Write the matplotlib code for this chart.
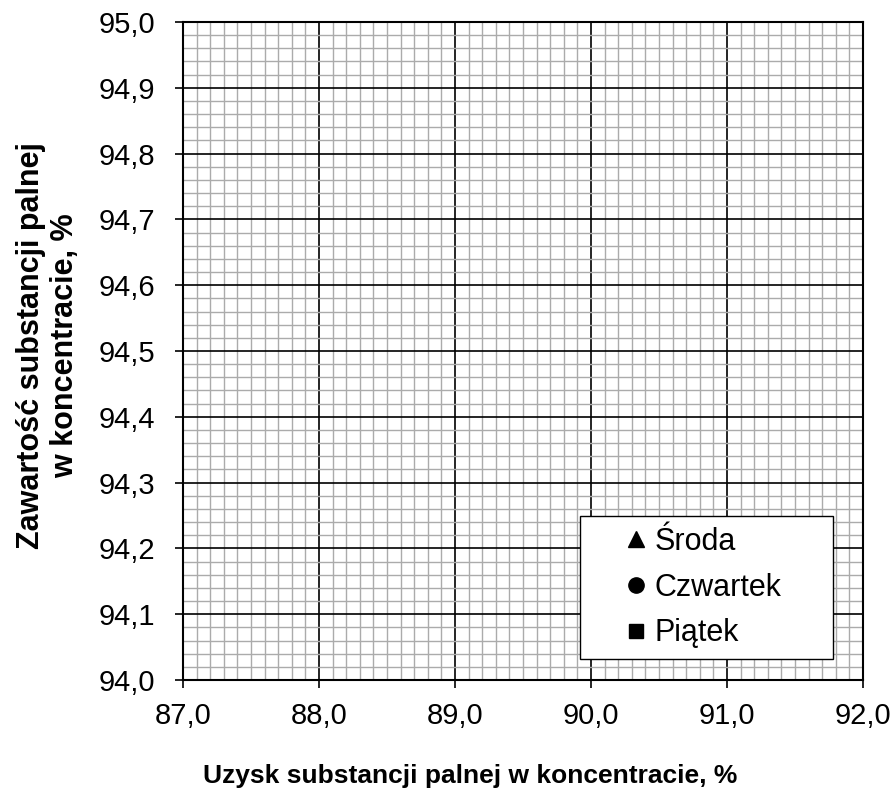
import matplotlib.pyplot as plt
from matplotlib.ticker import MultipleLocator
from matplotlib.patches import Rectangle

plt.rcParams['font.family'] = ['Liberation Sans', 'DejaVu Sans']

# series (empty chart template - no measured points yet)
series_names = ['Środa', 'Czwartek', 'Piątek']
series_markers = ['^', 'o', 's']
series_sizes = [12, 11, 10]
series_x = [[], [], []]
series_y = [[], [], []]

x_range = (87.0, 92.0)
y_range = (94.0, 95.0)

fig = plt.figure(figsize=(8.96, 7.91), dpi=100)
ax = fig.add_axes([0.2042, 0.1403, 0.7590, 0.8319])

for name, m, ms, xs, ys in zip(series_names, series_markers, series_sizes, series_x, series_y):
    ax.plot(xs, ys, linestyle='none', marker=m, color='black', markersize=ms, label=name)

ax.set_xlim(*x_range)
ax.set_ylim(*y_range)

ax.xaxis.set_major_locator(MultipleLocator(1.0))
ax.xaxis.set_minor_locator(MultipleLocator(0.1))
ax.yaxis.set_major_locator(MultipleLocator(0.1))
ax.yaxis.set_minor_locator(MultipleLocator(0.02))

fmt = lambda v, p: f"{v:.1f}".replace('.', ',')
ax.xaxis.set_major_formatter(plt.FuncFormatter(fmt))
ax.yaxis.set_major_formatter(plt.FuncFormatter(fmt))

ax.grid(which='minor', color='#ababab', linewidth=1.0)
ax.grid(which='major', color='black', linewidth=1.2)
ax.set_axisbelow(True)

ax.tick_params(which='major', direction='out', length=6, width=1.2, labelsize=21)
ax.tick_params(axis='x', pad=10)
ax.tick_params(axis='y', pad=14)
ax.tick_params(which='minor', length=0)
for s in ax.spines.values():
    s.set_linewidth(1.5)

ax.set_xlabel('Uzysk substancji palnej w koncentracie, %', fontsize=19, fontweight='bold', labelpad=24)
ax.xaxis.label.set_x(0.422)
ax.set_ylabel('Zawartość substancji palnej\nw koncentracie, %', fontsize=22, fontweight='bold', labelpad=13)
ax.yaxis.label.set_y(0.508)

# legend frame (Excel-style box, wider than the entries)
ax.add_patch(Rectangle((0.584, 0.032), 0.372, 0.217, transform=ax.transAxes,
                       facecolor='white', edgecolor='black', linewidth=1.0, zorder=4))
leg = ax.legend(loc='center left', bbox_to_anchor=(0.655, 0.1405), fontsize=22,
                frameon=False, handlelength=0.5, handletextpad=0.35, labelspacing=0.52,
                borderpad=0, borderaxespad=0)
leg.set_zorder(5)

plt.savefig('out.png', dpi=100)
